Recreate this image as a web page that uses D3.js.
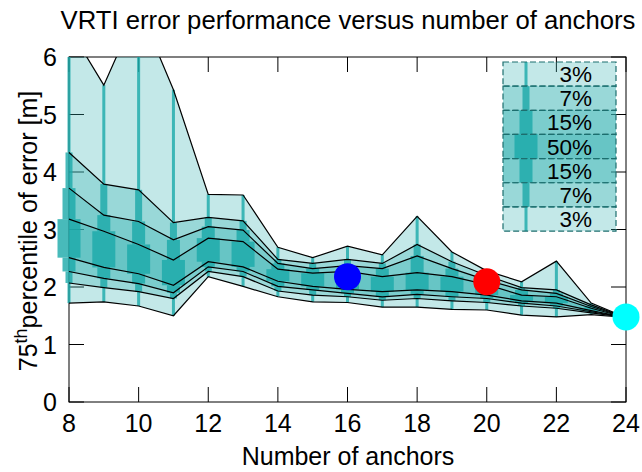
<!DOCTYPE html>
<html>
<head>
<meta charset="utf-8">
<script src="https://cdn.jsdelivr.net/npm/d3@7/dist/d3.min.js"></script>
<style>
  body { margin: 0; background: #fff; }
  text { font-family: "Liberation Sans", Arial, sans-serif; fill: #000; }
</style>
</head>
<body>
<svg id="chart" width="642" height="472"></svg>
<script>
(function () {
  "use strict";

  // number of anchors (x categories)
  var anchors = [8, 9, 10, 11, 12, 13, 14, 15, 16, 17, 18, 19, 20, 21, 22, 23, 24];

  // percentile envelope of the 75th-percentile error, top to bottom
  var errMax = [6.51, 5.51, 6.87, 5.43, 3.61, 3.60, 2.69, 2.51, 2.71, 2.56, 3.23, 2.61, 2.28, 2.09, 2.45, 1.72, 1.47];
  var err97  = [4.34, 3.79, 3.69, 3.12, 3.21, 3.15, 2.48, 2.41, 2.48, 2.41, 2.74, 2.44, 2.20, 1.99, 1.95, 1.69, 1.47];
  var err90  = [3.72, 3.25, 3.14, 2.82, 3.05, 2.99, 2.41, 2.32, 2.37, 2.32, 2.54, 2.32, 2.12, 1.95, 1.89, 1.66, 1.47];
  var err75  = [3.18, 2.97, 2.74, 2.47, 2.85, 2.79, 2.31, 2.24, 2.27, 2.18, 2.25, 2.18, 2.04, 1.86, 1.83, 1.63, 1.47];
  var err25  = [2.51, 2.34, 2.23, 2.03, 2.44, 2.35, 2.10, 2.01, 1.96, 1.92, 1.95, 1.92, 1.86, 1.76, 1.72, 1.59, 1.47];
  var err10  = [2.27, 2.15, 2.06, 1.90, 2.35, 2.27, 2.01, 1.95, 1.89, 1.83, 1.87, 1.83, 1.80, 1.72, 1.67, 1.57, 1.47];
  var err3   = [2.07, 1.99, 1.92, 1.80, 2.27, 2.18, 1.93, 1.86, 1.83, 1.77, 1.80, 1.76, 1.73, 1.67, 1.63, 1.55, 1.47];
  var errMin = [1.72, 1.74, 1.67, 1.50, 2.18, 2.01, 1.83, 1.74, 1.73, 1.65, 1.65, 1.61, 1.60, 1.51, 1.48, 1.52, 1.47];

  // legend
  var bandLabels = ["3%", "7%", "15%", "50%", "15%", "7%", "3%"];

  // highlighted configurations
  var markerX = [16, 20, 24];
  var markerY = [2.18, 2.09, 1.48];
  var markerColors = ["#0000ff", "#ff0000", "#00ffff"];

  var xTicks = [8, 10, 12, 14, 16, 18, 20, 22, 24];
  var yTicks = [0, 1, 2, 3, 4, 5, 6];

  var bounds = [errMax, err97, err90, err75, err25, err10, err3, errMin];
  var bandWidths = [3, 7, 13, 23, 13, 7, 3];
  var bandLayers = [1, 2, 3, 4, 3, 2, 1];
  var fillColor = "rgb(55,178,178)", fillAlpha = 0.3;
  var barColor = "#1aa9a9";

  var left = 69, right = 626, top = 57, bottom = 402, tickLen = 15;

  var svg = d3.select("#chart");

  var x = d3.scaleLinear().domain([8, 24]).range([left, right]);
  var y = d3.scaleLinear().domain([0, 6]).range([bottom, top]);

  svg.append("defs").append("clipPath").attr("id", "plotclip")
    .append("rect").attr("x", 0).attr("y", top).attr("width", 642).attr("height", bottom - top);

  // ticks + border (behind the translucent fills)
  var frame = svg.append("g").attr("stroke", "#000").attr("stroke-width", 1);
  xTicks.forEach(function (t) {
    frame.append("line").attr("x1", x(t)).attr("x2", x(t)).attr("y1", bottom).attr("y2", bottom - tickLen);
    frame.append("line").attr("x1", x(t)).attr("x2", x(t)).attr("y1", top).attr("y2", top + tickLen);
  });
  yTicks.forEach(function (t) {
    frame.append("line").attr("x1", left).attr("x2", left + tickLen).attr("y1", y(t)).attr("y2", y(t));
    frame.append("line").attr("x1", right).attr("x2", right - tickLen).attr("y1", y(t)).attr("y2", y(t));
  });
  frame.append("rect").attr("x", left).attr("y", top).attr("width", right - left).attr("height", bottom - top)
    .attr("fill", "none");

  var plot = svg.append("g").attr("clip-path", "url(#plotclip)");

  // stacked translucent bands: [min,max], [3,97], [10,90], [25,75]
  var area = d3.area()
    .x(function (d) { return x(d.a); })
    .y0(function (d) { return y(d.lo); })
    .y1(function (d) { return y(d.hi); });
  for (var k = 0; k < 4; k++) {
    var hiArr = bounds[k], loArr = bounds[7 - k];
    var pts = anchors.map(function (a, i) { return { a: a, hi: hiArr[i], lo: loArr[i] }; });
    plot.append("path").datum(pts).attr("d", area)
      .attr("fill", fillColor).attr("fill-opacity", fillAlpha);
  }

  // stepped bars at each anchor count
  var bars = plot.append("g").attr("fill", barColor).attr("fill-opacity", 0.8);
  anchors.forEach(function (a, i) {
    for (var b = 0; b < 7; b++) {
      var hi = bounds[b][i], lo = bounds[b + 1][i];
      bars.append("rect")
        .attr("x", x(a) - bandWidths[b] / 2)
        .attr("width", bandWidths[b])
        .attr("y", y(hi))
        .attr("height", Math.max(0, y(lo) - y(hi)));
    }
  });

  // boundary lines
  var line = d3.line()
    .x(function (d, i) { return x(anchors[i]); })
    .y(function (d) { return y(d); });
  bounds.forEach(function (arr) {
    plot.append("path").datum(arr).attr("d", line)
      .attr("fill", "none").attr("stroke", "#000").attr("stroke-width", 1.2);
  });

  // markers
  markerX.forEach(function (m, i) {
    svg.append("circle").attr("cx", x(m)).attr("cy", y(markerY[i])).attr("r", 13.5)
      .attr("fill", markerColors[i]);
  });

  // legend
  var lg = svg.append("g");
  var lgX = 503, lgY = 62, lgW = 113, rowH = 24.15, barX = 526;
  bandLabels.forEach(function (lab, r) {
    var ry = lgY + r * rowH;
    for (var n = 0; n < bandLayers[r]; n++) {
      lg.append("rect").attr("x", lgX).attr("y", ry).attr("width", lgW).attr("height", rowH)
        .attr("fill", fillColor).attr("fill-opacity", fillAlpha);
    }
    lg.append("rect").attr("x", barX - bandWidths[r] / 2).attr("y", ry)
      .attr("width", bandWidths[r]).attr("height", rowH)
      .attr("fill", barColor).attr("fill-opacity", 0.8);
    lg.append("rect").attr("x", lgX).attr("y", ry).attr("width", lgW).attr("height", rowH)
      .attr("fill", "none").attr("stroke", "#1d6e6e").attr("stroke-width", 1.2)
      .attr("stroke-dasharray", "6,3");
    lg.append("text").attr("x", 592).attr("y", ry + rowH / 2 + 8)
      .attr("text-anchor", "end").style("font-size", "22.5px").text(lab);
  });

  // tick labels
  xTicks.forEach(function (t) {
    svg.append("text").attr("x", x(t)).attr("y", 432).attr("text-anchor", "middle")
      .style("font-size", "25px").text(t);
  });
  yTicks.forEach(function (t) {
    svg.append("text").attr("x", 57).attr("y", y(t) + 9).attr("text-anchor", "end")
      .style("font-size", "25px").text(t);
  });

  // titles
  svg.append("text").attr("x", 348).attr("y", 29).attr("text-anchor", "middle")
    .style("font-size", "25.7px").text("VRTI error performance versus number of anchors");
  svg.append("text").attr("x", 348).attr("y", 465).attr("text-anchor", "middle")
    .style("font-size", "25px").text("Number of anchors");
  var yl = svg.append("text").attr("transform", "translate(37,231) rotate(-90)")
    .attr("text-anchor", "middle").style("font-size", "25px");
  yl.append("tspan").text("75");
  yl.append("tspan").attr("dy", -10).style("font-size", "18px").text("th");
  yl.append("tspan").attr("dy", 10).text("percentile of error [m]");
}());
</script>
</body>
</html>
